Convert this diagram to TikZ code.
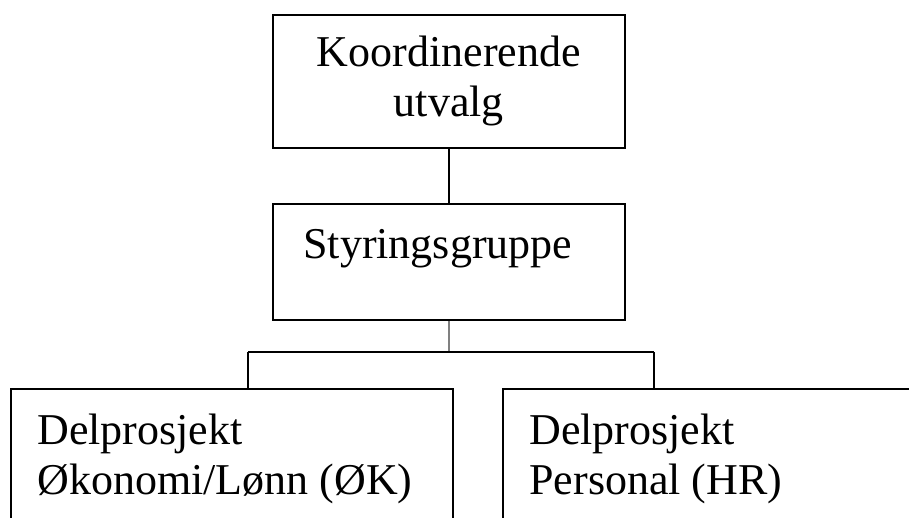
\documentclass[tikz,border=0pt]{standalone}
\usepackage{fontspec}
\setmainfont{Liberation Serif}
\usetikzlibrary{positioning}
\begin{document}
\begin{tikzpicture}[x=0.5pt,y=-0.5pt,
  boks/.style={draw,line width=0.9pt,inner sep=0pt,anchor=north west},
  tekst/.style={font=\fontsize{22}{25}\selectfont,inner sep=0pt,align=left}]
\useasboundingbox (0,0) rectangle (909,518);
% boxes
\node[boks,tekst,align=center,minimum width=176pt,minimum height=66.5pt] (koord) at (272,14) {Koordinerende\\utvalg};
\node[boks,minimum width=176pt,minimum height=58pt] (styr) at (272,203) {};
\node[boks,minimum width=221pt,minimum height=81pt] (okonomi) at (10,388) {};
\node[boks,minimum width=220pt,minimum height=81pt] (personal) at (502,388) {};
% texts
\node[tekst,anchor=base west] (styrtekst) at (303,258) {Styringsgruppe};
\node[tekst,anchor=north west] (okonomitekst) at (37,414) {Delprosjekt\\Økonomi/Lønn (ØK)};
\node[tekst,anchor=north west] (personaltekst) at (529,414) {Delprosjekt\\Personal (HR)};
% lines
\coordinate (busL) at (248,352);
\coordinate (busR) at (654,352);
\draw[line width=0.8pt] (koord.south) -- (styr.north);
\draw[gray,line width=1.3pt] (styr.south) -- (styr.south |- busL);
\draw[line width=0.8pt] (busL) -- (busR);
\foreach \p/\b in {busL/okonomi,busR/personal}
  \draw[line width=0.8pt] (\p) -- (\p |- \b.north);
\end{tikzpicture}
\end{document}
